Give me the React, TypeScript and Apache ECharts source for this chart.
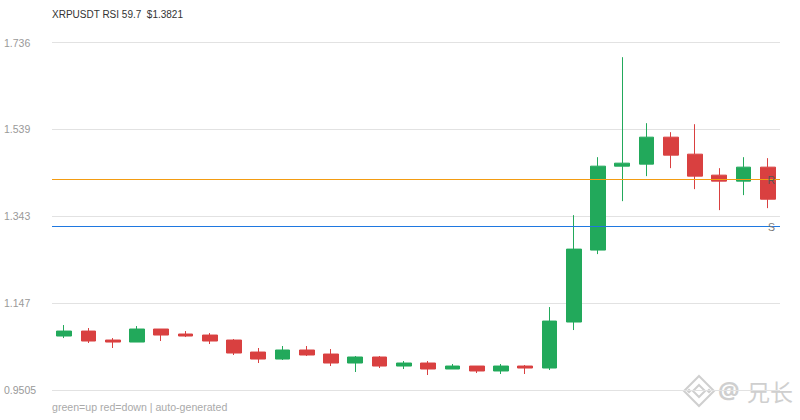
import React, { useEffect, useRef } from "react";
import * as echarts from "echarts";

const titleText = "XRPUSDT RSI 59.7  $1.3821";
const footerText = "green=up red=down | auto-generated";
const watermarkAt = "@";
const watermarkName = "兄长";
const tickLabels = ["0.9505", "1.147", "1.343", "1.539", "1.736"];
const axisMin = 0.9505;
const axisMax = 1.736;
const resistance = 1.4263;
const support = 1.3202;
const categories = Array.from({ length: 30 }, (_, i) => String(i + 1));
const opens = [
  1.0731, 1.0843, 1.0640, 1.0595, 1.0889, 1.0776, 1.0753, 1.0640, 1.0369, 1.0211,
  1.0415, 1.0324, 1.0121, 1.0257, 1.0053, 1.0121, 0.9986, 1.0053, 0.9941, 1.0053,
  1.0008, 1.1047, 1.2672, 1.4567, 1.4613, 1.5222, 1.4838, 1.4364, 1.4229, 1.4545,
];
const closes = [
  1.0843, 1.0618, 1.0595, 1.0889, 1.0753, 1.0731, 1.0618, 1.0347, 1.0211, 1.0415,
  1.0302, 1.0121, 1.0257, 1.0053, 1.0121, 0.9986, 1.0053, 0.9941, 1.0053, 1.0008,
  1.1069, 1.2694, 1.4567, 1.4635, 1.5222, 1.4816, 1.4342, 1.4229, 1.4545, 1.3821,
];
const lows = [
  1.0685, 1.0573, 1.0460, 1.0595, 1.0618, 1.0708, 1.0550, 1.0302, 1.0121, 1.0189,
  1.0279, 1.0053, 0.9918, 1.0008, 0.9986, 0.9850, 0.9986, 0.9895, 0.9873, 0.9873,
  0.9963, 1.0866, 1.2581, 1.3777, 1.4342, 1.4522, 1.4048, 1.3574, 1.3913, 1.3619,
];
const highs = [
  1.0979, 1.0911, 1.0685, 1.0956, 1.0889, 1.0843, 1.0798, 1.0663, 1.0460, 1.0505,
  1.0505, 1.0437, 1.0279, 1.0279, 1.0166, 1.0166, 1.0099, 1.0053, 1.0099, 1.0076,
  1.1385, 1.3461, 1.4770, 1.7028, 1.5538, 1.5335, 1.5515, 1.4522, 1.4770, 1.4748,
];

const diamond = (cx: number, cy: number, r: number) => [
  [cx, cy - r],
  [cx + r, cy],
  [cx, cy + r],
  [cx - r, cy],
];

export default function App() {
  const ref = useRef<HTMLDivElement>(null);
  useEffect(() => {
    const chart = echarts.init(ref.current!, undefined, { renderer: "svg" });
    const data = categories.map((_, i) => [opens[i], closes[i], lows[i], highs[i]]);
    const font = "'Liberation Sans', Arial, sans-serif";
    const wm = "#cfcfcf";
    chart.setOption({
      animation: false,
      textStyle: { fontFamily: font },
      grid: { left: 52, right: 20, top: 42.5, bottom: 29.7 },
      xAxis: {
        type: "category",
        data: categories,
        axisLine: { show: false },
        axisTick: { show: false },
        axisLabel: { show: false },
        splitLine: { show: false },
      },
      yAxis: {
        type: "value",
        min: axisMin,
        max: axisMax,
        interval: (axisMax - axisMin) / 4,
        axisLine: { show: false },
        axisTick: { show: false },
        axisLabel: {
          color: "#999999",
          fontSize: 10.5,
          fontFamily: font,
          align: "left",
          margin: 48,
          formatter: (_v: number, i: number) => tickLabels[i],
        },
        splitLine: { lineStyle: { color: "#e2e2e2", width: 1 } },
      },
      series: [
        {
          type: "candlestick",
          data,
          barWidth: "63%",
          itemStyle: {
            color: "#22a95b",
            color0: "#d94040",
            borderColor: "#22a95b",
            borderColor0: "#d94040",
            borderWidth: 1,
          },
          markLine: {
            silent: true,
            symbol: "none",
            animation: false,
            precision: 4,
            z: 10,
            data: [
              {
                yAxis: resistance,
                lineStyle: { color: "#f39c12", width: 1, type: "solid" },
                label: { show: true, formatter: "R", position: "insideEnd", color: "#555555", fontSize: 10.5, fontFamily: font, distance: [5, -2] },
              },
              {
                yAxis: support,
                lineStyle: { color: "#1f78e0", width: 1, type: "solid" },
                label: { show: true, formatter: "S", position: "insideEnd", color: "#777777", fontSize: 10.5, fontFamily: font, distance: [5, -2] },
              },
            ],
          },
        },
      ],
      graphic: [
        { type: "text", x: 52, y: 9, style: { text: titleText, fill: "#333333", fontSize: 10, fontFamily: font } },
        { type: "text", x: 52, y: 401, style: { text: footerText, fill: "#aaaaaa", fontSize: 10.6, fontFamily: font } },
        { type: "polygon", shape: { points: diamond(699, 391, 15) }, style: { fill: "none", stroke: wm, lineWidth: 2 } },
        { type: "polygon", shape: { points: diamond(699, 391, 6) }, style: { fill: "none", stroke: wm, lineWidth: 2 } },
        { type: "polygon", shape: { points: diamond(689, 391, 2.5) }, style: { fill: wm } },
        { type: "polygon", shape: { points: diamond(709, 391, 2.5) }, style: { fill: wm } },
        { type: "text", x: 718, y: 377, style: { text: watermarkAt, fill: wm, fontSize: 24, fontFamily: "'Noto Sans', sans-serif", fontWeight: "bold" } },
        { type: "text", x: 747, y: 379, style: { text: watermarkName, fill: wm, fontSize: 23, fontFamily: "'Noto Sans CJK SC', sans-serif" } },
      ],
    });
    return () => chart.dispose();
  }, []);
  return <div ref={ref} style={{ width: 800, height: 420, position: "absolute", left: 0, top: 0 }} />;
}
